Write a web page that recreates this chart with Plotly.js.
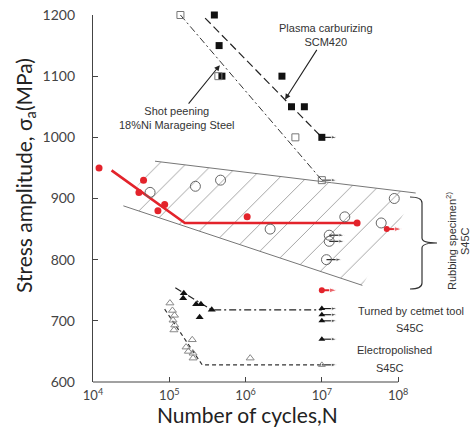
<!DOCTYPE html>
<html><head><meta charset="utf-8">
<script src="https://cdn.plot.ly/plotly-3.0.1.min.js"></script>
<style>html,body{margin:0;padding:0;background:#fff}#c{width:473px;height:434px}</style>
</head><body><div id="c"></div>
<script>
// ---- data (N = cycles, S = stress amplitude MPa) ----
var plasmaN = [3.9e5, 4.5e5, 4.9e5, 3.0e6, 4.0e6, 5.9e6];
var plasmaS = [1200, 1150, 1100, 1100, 1050, 1050];
var plasmaRunN = [1e7]; var plasmaRunS = [1000];
var plasmaLineN = [2.95e5, 1e7]; var plasmaLineS = [1195, 1000];

var shotN = [1.4e5, 4.4e5, 4.5e6];
var shotS = [1200, 1100, 1000];
var shotRunN = [1e7]; var shotRunS = [930];
var shotLineN = [1.4e5, 1e7]; var shotLineS = [1200, 930];

var redN = [1.2e4, 4.6e4, 4.0e4, 8.7e4, 7.1e4, 1.05e6, 2.9e7];
var redS = [950, 930, 910, 890, 880, 870, 860];
var redRunN = [7.1e7, 1e7]; var redRunS = [850, 750];
var redLineN = [1.75e4, 1.6e5, 2.9e7]; var redLineS = [946, 860, 860];

var circN = [5.6e4, 2.2e5, 4.7e5, 2.1e6, 2.0e7, 6.0e7, 8.9e7];
var circS = [910, 920, 930, 850, 870, 860, 900];
var circRunN = [1.25e7, 1.25e7, 1.15e7]; var circRunS = [840, 830, 800];

var bandUpN = [6.5e4, 1.7e8]; var bandUpS = [961, 909];
var bandLoN = [2.5e4, 3.4e7]; var bandLoS = [888, 758];

var turnN = [1.55e5, 1.52e5, 2.25e5, 2.6e5, 2.5e5, 3.6e5];
var turnS = [745, 737, 727, 727, 706, 718];
var turnRunN = [1e7, 1e7, 1e7, 1e7]; var turnRunS = [720, 710, 700, 670];
var turnLineN = [1.2e5, 3.6e5, 1e7]; var turnLineS = [754, 718, 718];

var elecN = [1.02e5, 1.1e5, 1.17e5, 1.12e5, 1.18e5, 1.15e5, 2.0e5, 1.66e5, 1.78e5, 2.05e5, 2.05e5, 1.15e6];
var elecS = [729, 717, 709, 701, 693, 685, 669, 657, 650, 647, 639, 639];
var elecRunN = [1e7]; var elecRunS = [628];
var elecLineN = [8.7e4, 2.7e5, 1e7]; var elecLineS = [719, 628, 628];

var xTickVals = [1e4, 1e5, 1e6, 1e7, 1e8];
var xTickText = ['10<sup>4</sup>', '10<sup>5</sup>', '10<sup>6</sup>', '10<sup>7</sup>', '10<sup>8</sup>'];
var yTickVals = [600, 700, 800, 900, 1000, 1100, 1200];

// ---- layout helpers ----
var L = 93, R = 52, T = 15, B = 52, W = 473, H = 434;
var PW = W - L - R, PH = H - T - B;
function px(X) { return (X - L) / PW; }
function py(Y) { return (H - B - Y) / PH; }
var GRAY = '#777', TXT = '#333';
var RUN = Math.pow(10, 0.2); // runout arrow length (0.2 decade)

function ln(x, y, dash, color, width) {
  return {x: x, y: y, mode: 'lines', type: 'scatter', hoverinfo: 'skip',
    line: {color: color || '#111', width: width || 1.2, dash: dash || 'solid'}};
}
function mk(x, y, symbol, size, color, lineColor, lw) {
  return {x: x, y: y, mode: 'markers', type: 'scatter', cliponaxis: false,
    marker: {symbol: symbol, size: size, color: color, line: {color: lineColor || color, width: lw || 0}}};
}
var traces = [
  // hatched band
  {x: [bandUpN[0], bandUpN[1], bandLoN[1], bandLoN[0]], y: [bandUpS[0], bandUpS[1], bandLoS[1], bandLoS[0]],
   type: 'scatter', mode: 'none', fill: 'toself', fillcolor: 'rgba(0,0,0,0)', hoverinfo: 'skip',
   fillpattern: {shape: '/', size: 19, solidity: 0.05, fgcolor: '#a0a0a0', bgcolor: 'rgba(0,0,0,0)'}},
  ln(bandUpN, bandUpS, 'solid', GRAY, 1),
  ln(bandLoN, bandLoS, 'solid', GRAY, 1),
  ln(plasmaLineN, plasmaLineS, '8px,4px', '#222', 1.2),
  ln(shotLineN, shotLineS, '7px,3px,2px,3px', '#333', 1),
  ln(turnLineN, turnLineS, '7px,3px,2px,3px', '#222', 1.2),
  ln(elecLineN, elecLineS, '4px,3px', '#333', 1.2),
  ln(redLineN, redLineS, 'solid', '#e3232b', 2.6)
];
function runout(N, S, color, w) {
  for (var i = 0; i < N.length; i++) {
    traces.push({x: [N[i], N[i] * RUN], y: [S[i], S[i]], type: 'scatter', mode: 'lines+markers',
      cliponaxis: false, hoverinfo: 'skip', line: {color: color, width: w},
      marker: {symbol: 'arrow', angleref: 'previous', size: [0, w > 1.5 ? 8 : 6], color: color}});
  }
}
runout(plasmaRunN, plasmaRunS, '#111', 1.1);
runout(shotRunN, shotRunS, '#333', 1.1);
runout(circRunN, circRunS, '#111', 1.1);
runout(redRunN, redRunS, '#e3232b', 2);
runout(turnRunN, turnRunS, '#111', 1.1);
runout(elecRunN, elecRunS, '#111', 1.1);

traces.push(
  mk(plasmaN, plasmaS, 'square', 7, '#111'),
  mk(plasmaRunN, plasmaRunS, 'square', 7, '#111'),
  mk(shotN, shotS, 'square-open', 7, GRAY, GRAY, 1),
  mk(shotRunN, shotRunS, 'square-open', 7, GRAY, GRAY, 1),
  mk(circN, circS, 'circle-open', 10, '#666', '#666', 1),
  mk(circRunN, circRunS, 'circle-open', 10, '#666', '#666', 1),
  mk(redN, redS, 'circle', 7, '#e3232b'),
  mk(redRunN, redRunS, 'circle', 6, '#e3232b'),
  mk(turnN, turnS, 'triangle-up', 7, '#111'),
  mk(turnRunN, turnRunS, 'triangle-up', 6, '#111'),
  mk(elecN, elecS, 'triangle-up-open', 7, '#888', '#888', 1),
  mk(elecRunN, elecRunS, 'triangle-up-open', 6, '#888', '#888', 1)
);

var ann = [];
function txt(t, X, Y, size, angle) {
  ann.push({xref: 'paper', yref: 'paper', x: px(X), y: py(Y), text: t, showarrow: false,
    xanchor: 'center', yanchor: 'middle', textangle: angle || 0,
    font: {family: 'Liberation Sans, Arial, sans-serif', size: size || 11, color: TXT}});
}
txt('Turned by cetmet tool', 411, 311);
txt('S45C', 410, 328);
txt('Electropolished', 394, 350);
txt('S45C', 390, 368);
txt('Rubbing specimen<sup>2)</sup>', 451, 241, 11, -90);
txt('S45C', 465, 241, 11, -90);

// labelled pointer arrows (text box at tail, arrow head on the line)
ann.push({xref: 'x', yref: 'y', x: Math.log10(4.6e5), y: 1118, ax: -43, ay: 53,
  text: 'Shot peening<br>18%Ni Marageing Steel', showarrow: true,
  arrowhead: 2, arrowsize: 1, arrowwidth: 1.1, arrowcolor: '#222',
  font: {family: 'Liberation Sans, Arial, sans-serif', size: 11, color: TXT}});
ann.push({xref: 'x', yref: 'y', x: Math.log10(3.3e6), y: 1062, ax: 41, ay: -64,
  text: 'Plasma carburizing<br>SCM420', showarrow: true,
  arrowhead: 2, arrowsize: 1, arrowwidth: 1.1, arrowcolor: '#222',
  font: {family: 'Liberation Sans, Arial, sans-serif', size: 11, color: TXT}});

// axis titles
ann.push({xref: 'paper', yref: 'paper', x: px(247), y: py(414), text: 'Number of cycles,N', showarrow: false,
  xanchor: 'center', yanchor: 'middle', font: {family: 'Lato, sans-serif', size: 21, color: '#222'}});
ann.push({xref: 'paper', yref: 'paper', x: px(25), y: py(176), text: 'Stress amplitude, σ<sub>a</sub>(MPa)', showarrow: false,
  xanchor: 'center', yanchor: 'middle', textangle: -90, font: {family: 'Lato, sans-serif', size: 21, color: '#222'}});

// bracket
var bx = [410, 420, 422, 437, 422, 420, 410], by = [197, 199, 238, 243, 248, 287, 289];
var path = 'M' + px(bx[0]) + ',' + py(by[0]) +
  ' Q' + px(bx[1]+2) + ',' + py(by[0]) + ' ' + px(bx[2]) + ',' + py(by[0]+6) +
  ' L' + px(bx[2]) + ',' + py(by[2]) +
  ' Q' + px(bx[2]) + ',' + py(by[3]) + ' ' + px(bx[3]) + ',' + py(by[3]) +
  ' Q' + px(bx[2]) + ',' + py(by[3]) + ' ' + px(bx[2]) + ',' + py(by[4]) +
  ' L' + px(bx[2]) + ',' + py(by[6]-6) +
  ' Q' + px(bx[1]+2) + ',' + py(by[6]) + ' ' + px(bx[6]) + ',' + py(by[6]);

var layout = {
  width: W, height: H, margin: {l: L, r: R, t: T, b: B},
  paper_bgcolor: '#fff', plot_bgcolor: '#fff', showlegend: false,
  font: {family: 'Lato, sans-serif', color: '#333'},
  xaxis: {type: 'log', range: [4, 8.3], tickvals: xTickVals, ticktext: xTickText,
    ticks: 'inside', ticklen: 5, tickcolor: '#444', showline: false, showgrid: false, zeroline: false,
    tickfont: {size: 13, color: '#444'}, ticklabelstandoff: 4},
  yaxis: {range: [600, 1200], tickvals: yTickVals, ticks: 'inside', ticklen: 5, tickcolor: '#444',
    showline: true, linecolor: '#444', linewidth: 1.2, showgrid: false, zeroline: false,
    tickfont: {size: 14, color: '#444'}, ticklabelstandoff: 14},
  annotations: ann,
  shapes: [
    {type: 'line', xref: 'paper', yref: 'paper', x0: 0, x1: 4 / 4.3, y0: 0, y1: 0, line: {color: '#444', width: 1.2}},
    {type: 'path', xref: 'paper', yref: 'paper', path: path, line: {color: '#333', width: 1.2}}
  ]
};
Plotly.newPlot('c', traces, layout, {staticPlot: true});
</script></body></html>
